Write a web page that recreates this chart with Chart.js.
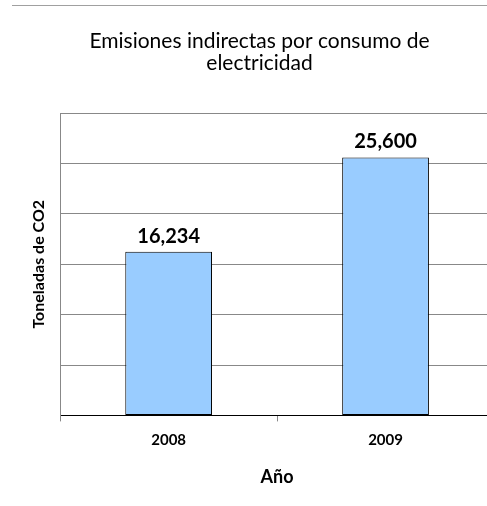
<!DOCTYPE html>
<html>
<head>
<meta charset="utf-8">
<script src="https://cdn.jsdelivr.net/npm/chart.js@4.4.1/dist/chart.umd.min.js"></script>
<style>
  html, body { margin: 0; padding: 0; background: #fff; overflow: hidden; }
  #wrap { position: relative; width: 487px; height: 506px; overflow: hidden; }
  #frame { position: absolute; left: 12px; top: 5px; width: 500px; border-top: 1px solid #a0a0a0; }
  #c { position: absolute; left: 0; top: 0; }
</style>
</head>
<body>
<div id="wrap">
  <div id="frame"></div>
  <canvas id="c" width="510" height="506"></canvas>
</div>
<script>
// datos
const years = ['2008', '2009'];
const emissions = [16234, 25600];
const titleLines = ['Emisiones indirectas por consumo de', 'electricidad'];

const FONT = 'Lato, "Open Sans", sans-serif';

// etiquetas encima de cada barra
const barLabels = {
  id: 'barLabels',
  afterDatasetsDraw(chart) {
    const ctx = chart.ctx;
    const meta = chart.getDatasetMeta(0);
    ctx.save();
    ctx.font = 'bold 20px ' + FONT;
    ctx.fillStyle = '#000';
    ctx.textAlign = 'center';
    ctx.textBaseline = 'alphabetic';
    meta.data.forEach((bar, i) => {
      ctx.fillText(emissions[i].toLocaleString('en-US'), bar.x, bar.y - 9);
    });
    ctx.restore();
  }
};

new Chart(document.getElementById('c'), {
  type: 'bar',
  data: {
    labels: years,
    datasets: [{
      data: emissions,
      backgroundColor: '#99ccff',
      borderColor: '#000',
      borderWidth: 1,
      borderSkipped: false,
      barPercentage: 1,
      categoryPercentage: 0.4
    }]
  },
  options: {
    responsive: false,
    animation: false,
    layout: { padding: { left: 25, right: 16, top: 20, bottom: 14 } },
    plugins: {
      legend: { display: false },
      tooltip: { enabled: false },
      title: {
        display: true,
        text: titleLines,
        color: '#000',
        font: { family: FONT, size: 21, weight: 'normal', lineHeight: 1.05 },
        padding: { top: 10, bottom: 39 }
      }
    },
    scales: {
      x: {
        offset: true,
        grid: { display: true, drawOnChartArea: false, tickLength: 6, color: '#888' },
        border: { color: '#000', width: 1 },
        ticks: { color: '#000', font: { family: FONT, size: 15, weight: 'bold' }, padding: 10 },
        title: { display: true, text: 'Año', color: '#000', font: { family: FONT, size: 18, weight: 'bold' }, padding: { top: 7, bottom: 4 } }
      },
      y: {
        min: 0,
        max: 30000,
        ticks: { display: false, stepSize: 5000 },
        grid: { color: '#888', drawTicks: false },
        border: { color: '#888' },
        title: { display: true, text: 'Toneladas de CO2', color: '#000', font: { family: FONT, size: 16, weight: 'bold' }, padding: { top: 4, bottom: 12 } }
      }
    }
  },
  plugins: [barLabels]
});
</script>
</body>
</html>
